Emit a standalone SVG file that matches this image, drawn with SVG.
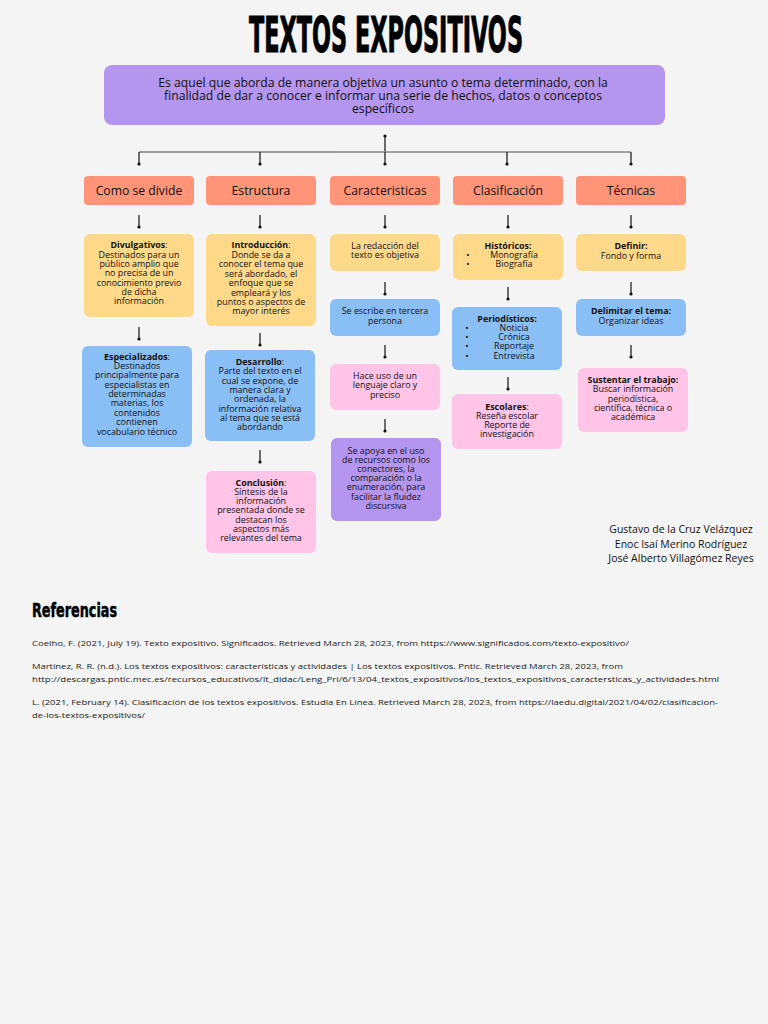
<svg xmlns="http://www.w3.org/2000/svg" width="768" height="1024" viewBox="0 0 768 1024">
<style>
.t{font-family:"Open Sans","Noto Sans","Liberation Sans",sans-serif;fill:#111;text-anchor:middle;font-weight:500}
.s{font-size:8.9px}
.b{font-weight:bold}
.cat{font-size:12.2px}
.head{font-size:12.2px}
.ref{font-family:"Open Sans","Noto Sans","Liberation Sans",sans-serif;font-size:8px;fill:#1a1a1a;font-weight:500}
.y{fill:#ffd98a}.bl{fill:#89bff5}.p{fill:#ffc4e6}.pu{fill:#b596ee}.o{fill:#ff9478}
.ln{stroke:#111;stroke-width:1.2;fill:none}
.ar{stroke:#111;stroke-width:1.2;fill:none;marker-end:url(#dot)}
</style>
<defs>
<marker id="dot" viewBox="0 0 4 4" refX="2" refY="2" markerWidth="4" markerHeight="4" markerUnits="userSpaceOnUse"><circle cx="2" cy="2" r="1.6" fill="#111"/></marker>
</defs>
<rect width="768" height="1024" fill="#f4f4f4"/>
<text x="386" y="52" font-family="'DejaVu Sans Condensed','DejaVu Sans',sans-serif" font-weight="bold" font-size="50" text-anchor="middle" textLength="274" lengthAdjust="spacingAndGlyphs" fill="#000" stroke="#000" stroke-width="1">TEXTOS EXPOSITIVOS</text>

<g id="connectors">
<line class="ln" x1="385" y1="136" x2="385" y2="152"/>
<circle cx="385" cy="136" r="1.6" fill="#111"/>
<line x1="139" y1="152" x2="335" y2="152" stroke="#444" stroke-width="1.2"/>
<line x1="335" y1="152" x2="631" y2="152" stroke="#888" stroke-width="1.5"/>
<line class="ar" x1="139" y1="152" x2="139" y2="164"/>
<line class="ar" x1="260" y1="152" x2="260" y2="164"/>
<line class="ar" x1="385" y1="152" x2="385" y2="164"/>
<line class="ar" x1="507" y1="152" x2="507" y2="164"/>
<line class="ar" x1="631" y1="152" x2="631" y2="164"/>
<line class="ar" x1="139" y1="215" x2="139" y2="227"/>
<line class="ar" x1="260" y1="215" x2="260" y2="227"/>
<line class="ar" x1="385" y1="215" x2="385" y2="227"/>
<line class="ar" x1="508" y1="215" x2="508" y2="227"/>
<line class="ar" x1="631" y1="215" x2="631" y2="227"/>
<line class="ar" x1="139" y1="327" x2="139" y2="339"/>
<line class="ar" x1="260" y1="333" x2="260" y2="345"/>
<line class="ar" x1="260" y1="450" x2="260" y2="462"/>
<line class="ar" x1="385" y1="282" x2="385" y2="294"/>
<line class="ar" x1="385" y1="345" x2="385" y2="357"/>
<line class="ar" x1="385" y1="419" x2="385" y2="431"/>
<line class="ar" x1="508" y1="287" x2="508" y2="299"/>
<line class="ar" x1="508" y1="377" x2="508" y2="389"/>
<line class="ar" x1="631" y1="282" x2="631" y2="294"/>
<line class="ar" x1="631" y1="345" x2="631" y2="357"/>
</g>

<g id="main">
<rect class="pu" x="104" y="65" width="561" height="60" rx="8"/>
<text class="t head" x="383"><tspan x="383" y="87">Es aquel que aborda de manera objetiva un asunto o tema determinado, con la</tspan><tspan x="383" y="100">finalidad de dar a conocer e informar una serie de hechos, datos o conceptos</tspan><tspan x="383" y="113">específicos</tspan></text>
</g>

<g id="cat1"><rect class="o" x="84" y="176" width="110" height="29" rx="4"/><text class="t cat" x="139" y="195">Como se divide</text></g>
<g id="cat2"><rect class="o" x="206" y="176" width="110" height="29" rx="4"/><text class="t cat" x="261" y="195">Estructura</text></g>
<g id="cat3"><rect class="o" x="330" y="176" width="110" height="29" rx="4"/><text class="t cat" x="385" y="195">Caracteristicas</text></g>
<g id="cat4"><rect class="o" x="453" y="176" width="110" height="29" rx="4"/><text class="t cat" x="508" y="195">Clasificación</text></g>
<g id="cat5"><rect class="o" x="576" y="176" width="110" height="29" rx="4"/><text class="t cat" x="631" y="195">Técnicas</text></g>

<g id="divulgativos"><rect class="y" x="84" y="234" width="110" height="83" rx="6"/>
<text class="t s" x="139"><tspan x="139" y="248" class="b">Divulgativos<tspan font-weight="500">:</tspan></tspan><tspan x="139" y="258">Destinados para un</tspan><tspan x="139" y="267">público amplio que</tspan><tspan x="139" y="276">no precisa de un</tspan><tspan x="139" y="286">conocimiento previo</tspan><tspan x="139" y="295">de dicha</tspan><tspan x="139" y="304">información</tspan></text></g>

<g id="especializados"><rect class="bl" x="82" y="346" width="110" height="101" rx="6"/>
<text class="t s" x="137"><tspan x="137" y="360" class="b">Especializados<tspan font-weight="500">:</tspan></tspan><tspan x="137" y="369">Destinados</tspan><tspan x="137" y="378">principalmente para</tspan><tspan x="137" y="388">especialistas en</tspan><tspan x="137" y="397">determinadas</tspan><tspan x="137" y="406">materias, los</tspan><tspan x="137" y="416">contenidos</tspan><tspan x="137" y="425">contienen</tspan><tspan x="137" y="435">vocabulario técnico</tspan></text></g>

<g id="introduccion"><rect class="y" x="206" y="234" width="110" height="92" rx="6"/>
<text class="t s" x="261"><tspan x="261" y="248" class="b">Introducción<tspan font-weight="500">:</tspan></tspan><tspan x="261" y="258">Donde se da a</tspan><tspan x="261" y="267">conocer el tema que</tspan><tspan x="261" y="277">será abordado, el</tspan><tspan x="261" y="286">enfoque que se</tspan><tspan x="261" y="296">empleará y los</tspan><tspan x="261" y="305">puntos o aspectos de</tspan><tspan x="261" y="314">mayor interés</tspan></text></g>

<g id="desarrollo"><rect class="bl" x="205" y="350" width="110" height="91" rx="6"/>
<text class="t s" x="260"><tspan x="260" y="365" class="b">Desarrollo<tspan font-weight="500">:</tspan></tspan><tspan x="260" y="374">Parte del texto en el</tspan><tspan x="260" y="384">cual se expone, de</tspan><tspan x="260" y="393">manera clara y</tspan><tspan x="260" y="402">ordenada, la</tspan><tspan x="260" y="412">información relativa</tspan><tspan x="260" y="421">al tema que se está</tspan><tspan x="260" y="430">abordando</tspan></text></g>

<g id="conclusion"><rect class="p" x="206" y="471" width="110" height="82" rx="6"/>
<text class="t s" x="261"><tspan x="261" y="486" class="b">Conclusión<tspan font-weight="500">:</tspan></tspan><tspan x="261" y="495">Síntesis de la</tspan><tspan x="261" y="504">información</tspan><tspan x="261" y="513">presentada donde se</tspan><tspan x="261" y="523">destacan los</tspan><tspan x="261" y="532">aspectos más</tspan><tspan x="261" y="541">relevantes del tema</tspan></text></g>

<g id="car1"><rect class="y" x="330" y="234" width="110" height="37" rx="6"/>
<text class="t s" x="385"><tspan x="385" y="249">La redacción del</tspan><tspan x="385" y="258">texto es objetiva</tspan></text></g>
<g id="car2"><rect class="bl" x="330" y="299" width="110" height="37" rx="6"/>
<text class="t s" x="385"><tspan x="385" y="314">Se escribe en tercera</tspan><tspan x="385" y="324">persona</tspan></text></g>
<g id="car3"><rect class="p" x="330" y="364" width="110" height="46" rx="6"/>
<text class="t s" x="385"><tspan x="385" y="379">Hace uso de un</tspan><tspan x="385" y="388">lenguaje claro y</tspan><tspan x="385" y="398">preciso</tspan></text></g>
<g id="car4"><rect class="pu" x="331" y="438" width="110" height="83" rx="6"/>
<text class="t s" x="386"><tspan x="386" y="454">Se apoya en el uso</tspan><tspan x="386" y="463">de recursos como los</tspan><tspan x="386" y="472">conectores, la</tspan><tspan x="386" y="481">comparación o la</tspan><tspan x="386" y="490">enumeración, para</tspan><tspan x="386" y="500">facilitar la fluidez</tspan><tspan x="386" y="509">discursiva</tspan></text></g>

<g id="historicos"><rect class="y" x="453" y="234" width="110" height="46" rx="6"/>
<text class="t s b" x="508" y="249">Históricos:</text>
<text class="t s" x="468" y="258">•</text><text class="t s" x="514" y="258">Monografía</text>
<text class="t s" x="468" y="267">•</text><text class="t s" x="514" y="267">Biografía</text></g>

<g id="periodisticos"><rect class="bl" x="452" y="307" width="110" height="63" rx="6"/>
<text class="t s b" x="507" y="322">Periodísticos:</text>
<text class="t s" x="467" y="331">•</text><text class="t s" x="514" y="331">Noticia</text>
<text class="t s" x="467" y="340">•</text><text class="t s" x="514" y="340">Crónica</text>
<text class="t s" x="467" y="349">•</text><text class="t s" x="514" y="349">Reportaje</text>
<text class="t s" x="467" y="359">•</text><text class="t s" x="514" y="359">Entrevista</text></g>

<g id="escolares"><rect class="p" x="452" y="394" width="110" height="55" rx="6"/>
<text class="t s" x="507"><tspan x="507" y="410" class="b">Escolares<tspan font-weight="500">:</tspan></tspan><tspan x="507" y="419">Reseña escolar</tspan><tspan x="507" y="428">Reporte de</tspan><tspan x="507" y="437">investigación</tspan></text></g>

<g id="definir"><rect class="y" x="576" y="234" width="110" height="37" rx="6"/>
<text class="t s" x="631"><tspan x="631" y="249" class="b">Definir:</tspan><tspan x="631" y="259">Fondo y forma</tspan></text></g>
<g id="delimitar"><rect class="bl" x="576" y="299" width="110" height="37" rx="6"/>
<text class="t s" x="631"><tspan x="631" y="314" class="b">Delimitar el tema:</tspan><tspan x="631" y="324">Organizar ideas</tspan></text></g>
<g id="sustentar"><rect class="p" x="578" y="368" width="110" height="64" rx="6"/>
<text class="t s" x="633"><tspan x="633" y="383" class="b">Sustentar el trabajo:</tspan><tspan x="633" y="392">Buscar información</tspan><tspan x="633" y="402">periodística,</tspan><tspan x="633" y="411">científica, técnica o</tspan><tspan x="633" y="420">académica</tspan></text></g>

<g id="authors">
<text class="t" font-size="10.5" x="681" y="533">Gustavo de la Cruz Velázquez</text>
<text class="t" font-size="10.5" x="681" y="548">Enoc Isaí Merino Rodríguez</text>
<text class="t" font-size="10.5" x="681" y="562">José Alberto Villagómez Reyes</text>
</g>

<g id="referencias">
<text x="32" y="617" font-family="'DejaVu Sans Condensed','DejaVu Sans',sans-serif" font-weight="bold" font-size="20" textLength="85" lengthAdjust="spacingAndGlyphs" fill="#000" stroke="#000" stroke-width="0.5">Referencias</text>
<text class="ref" x="32" y="646" textLength="597" lengthAdjust="spacingAndGlyphs">Coelho, F. (2021, July 19). Texto expositivo. Significados. Retrieved March 28, 2023, from https://www.significados.com/texto-expositivo/</text>
<text class="ref" x="32" y="669" textLength="591" lengthAdjust="spacingAndGlyphs">Martínez, R. R. (n.d.). Los textos expositivos: características y actividades | Los textos expositivos. Pntic. Retrieved March 28, 2023, from</text>
<text class="ref" x="32" y="682" textLength="687" lengthAdjust="spacingAndGlyphs">http://descargas.pntic.mec.es/recursos_educativos/It_didac/Leng_Pri/6/13/04_textos_expositivos/los_textos_expositivos_caractersticas_y_actividades.html</text>
<text class="ref" x="32" y="705" textLength="686" lengthAdjust="spacingAndGlyphs">L. (2021, February 14). Clasificación de los textos expositivos. Estudia En Línea. Retrieved March 28, 2023, from https://laedu.digital/2021/04/02/clasificacion-</text>
<text class="ref" x="32" y="718" textLength="113" lengthAdjust="spacingAndGlyphs">de-los-textos-expositivos/</text>
</g>
</svg>
